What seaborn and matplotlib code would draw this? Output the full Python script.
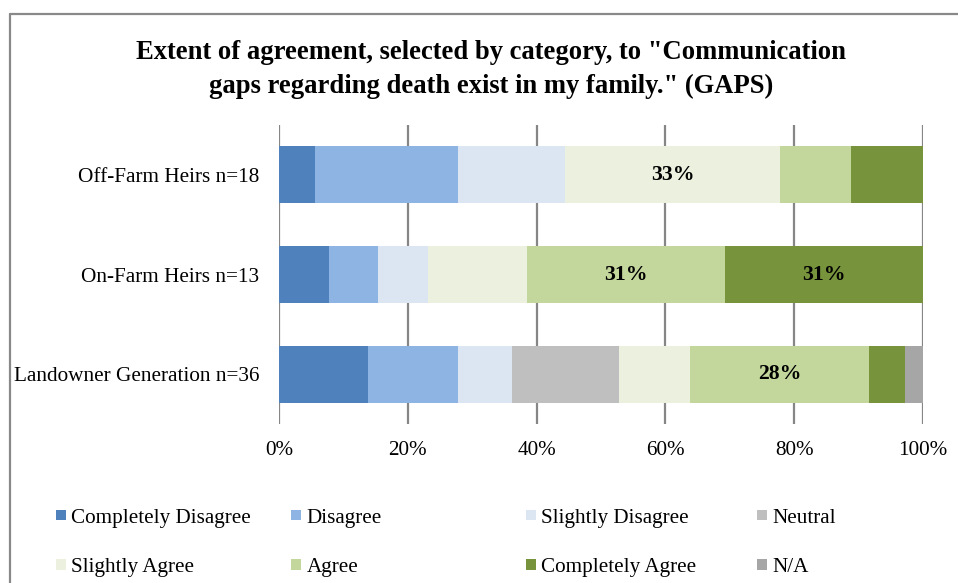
import numpy as np
import seaborn as sns
import matplotlib.pyplot as plt
from matplotlib.patches import Patch
from matplotlib.lines import Line2D

# Respondent groups (top to bottom) and their sizes
groups = ["Off-Farm Heirs n=18", "On-Farm Heirs n=13", "Landowner Generation n=36"]
group_sizes = [18, 13, 36]

# Response categories in stacking order
responses = ["Completely Disagree", "Disagree", "Slightly Disagree", "Neutral",
             "Slightly Agree", "Agree", "Completely Agree", "N/A"]

# Number of respondents per answer, one value per group
completely_disagree = [1, 1, 5]
disagree = [4, 1, 5]
slightly_disagree = [3, 1, 3]
neutral = [0, 0, 6]
slightly_agree = [6, 2, 4]
agree = [2, 4, 10]
completely_agree = [2, 4, 2]
not_applicable = [0, 0, 1]

colors = ["#4F81BD", "#8EB4E3", "#DCE6F2", "#BFBFBF",
          "#EBF1DE", "#C3D69B", "#77933C", "#A6A6A6"]

title = ('Extent of agreement, selected by category, to "Communication\n'
         'gaps regarding death exist in my family." (GAPS)')

sns.set_theme(style="white")
plt.rcParams["font.family"] = ["Liberation Serif", "DejaVu Serif"]
plt.rcParams["text.color"] = "black"
plt.rcParams["xtick.color"] = "black"
plt.rcParams["ytick.color"] = "black"

counts = np.array([completely_disagree, disagree, slightly_disagree, neutral,
                   slightly_agree, agree, completely_agree, not_applicable], dtype=float)
shares = counts / np.array(group_sizes, dtype=float)
ends = np.cumsum(shares, axis=0)
starts = ends - shares

W, H = 958, 583
fig = plt.figure(figsize=(W / 100, H / 100), dpi=100)
ax = fig.add_axes([279 / W, 1 - 424 / H, (923 - 279) / W, (424 - 125) / H])

# Stacked bars: draw cumulative totals from the outermost segment inwards
for i in range(len(responses) - 1, -1, -1):
    sns.barplot(x=ends[i], y=groups, color=colors[i], saturation=1,
                width=0.57, linewidth=0, orient="h", ax=ax, zorder=2)

# Value labels on the largest segments
for i in range(len(responses)):
    for j in range(len(groups)):
        if shares[i, j] >= 0.25:
            ax.text(starts[i, j] + shares[i, j] / 2, j, f"{shares[i, j]:.0%}",
                    ha="center", va="center", fontsize=15.7, fontweight="bold",
                    color="black", zorder=5)

ax.set_xlim(0, 1)
ax.set_ylim(2.5, -0.5)
ax.set_xticks(np.linspace(0, 1, 6))
ax.set_xticklabels([f"{int(t)}%" for t in np.linspace(0, 100, 6)])
ax.xaxis.grid(True, color="#868686", linewidth=1.6)
ax.yaxis.grid(False)
ax.set_axisbelow(True)
for s in ax.spines.values():
    s.set_visible(False)
ax.tick_params(axis="x", length=0, pad=12, labelsize=15.2, colors="black")
ax.tick_params(axis="y", length=0, pad=14, labelsize=15.3, colors="black")
ax.set_xlabel("")
ax.set_ylabel("")

fig.text(491 / W, 1 - 69.5 / H, title, ha="center", va="center",
         fontsize=19.2, fontweight="bold", linespacing=1.45, color="black")

# Legend laid out in four columns of two rows
col_x = [56, 291, 526, 757]
for c in range(4):
    idx = [c, c + 4]
    handles = [Patch(facecolor=colors[k], edgecolor="none") for k in idx]
    leg = fig.legend(handles, [responses[k] for k in idx], loc="center left",
                     bbox_to_anchor=(col_x[c] / W, 1 - 543 / H), frameon=False,
                     fontsize=15.2, handlelength=0.48, handleheight=0.4,
                     handletextpad=0.25, labelspacing=1.45, borderpad=0,
                     borderaxespad=0, labelcolor="black")

# Chart-area border along the left and top edges
border = "#898989"
fig.add_artist(Line2D([10 / W, 10 / W], [0, 1 - 13.5 / H], color=border, lw=1.6))
fig.add_artist(Line2D([10 / W, 1], [1 - 13.5 / H, 1 - 13.5 / H], color=border, lw=1.6))

fig.savefig("out.png", dpi=100, facecolor="white")
